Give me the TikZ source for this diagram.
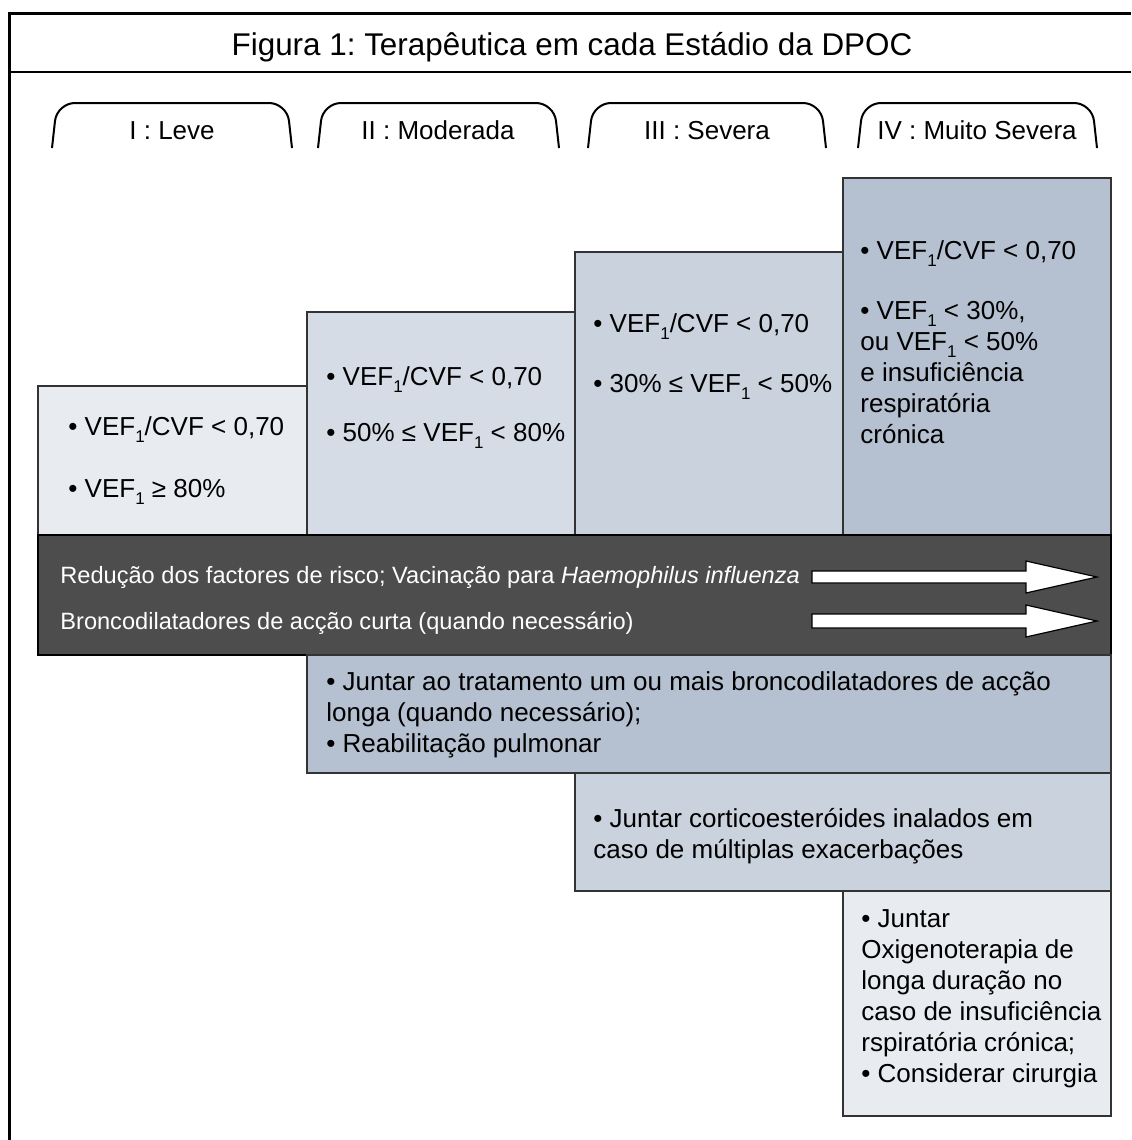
\documentclass[tikz,border=0pt]{standalone}
\usepackage{fontspec}
\setmainfont{Liberation Sans}
\frenchspacing
\definecolor{stageA}{HTML}{E8EBF0}
\definecolor{stageB}{HTML}{D6DCE5}
\definecolor{stageC}{HTML}{CAD2DD}
\definecolor{stageD}{HTML}{B5C1D0}
\definecolor{bandgray}{HTML}{4D4D4D}
\newcommand{\vef}{VEF\raisebox{-0.55ex}{\fontsize{8.5}{9}\selectfont 1}}
\newcommand{\rows}[1]{\begin{tabular}[t]{@{}l@{}}#1\end{tabular}}
\newcommand{\boxfont}{\fontsize{13}{15.5}\selectfont}
\newcommand{\bandfont}{\fontsize{11.8}{14}\selectfont}
\newcommand{\titlefont}{\fontsize{15.7}{18}\selectfont}

\begin{document}
\begin{tikzpicture}[x=0.5pt,y=-0.5pt]
	\tikzset{
		tab/.style={line width=1pt, rounded corners=9pt},
		stagebox/.style={draw=black!80, line width=0.75pt},
		txt/.style={anchor=base west, inner sep=0pt, font=\boxfont},
		bandtxt/.style={anchor=base west, inner sep=0pt, font=\bandfont, text=white},
		blockarrow/.style={fill=white, draw=black, line width=0.6pt}
	}
	\useasboundingbox (0,0) rectangle (1131,1140);
	%%%%% FRAME %%%%%
	
	\draw[line width=1.5pt] (9,1140) -- (9,13) -- (1131,13);
	\draw[line width=1pt] (9,72) -- (1131,72);
	\node[anchor=base, inner sep=0pt, font=\titlefont] (title) at (572,55) {Figura 1: Terapêutica em cada Estádio da DPOC};
	
	%%%%% TABS %%%%%
	
	\draw[tab] (52,148) -- (57,103) -- (287,103) -- (292,148);
	\draw[tab] (318,148) -- (323,103) -- (554,103) -- (559,148);
	\draw[tab] (588,148) -- (593,103) -- (821,103) -- (826,148);
	\draw[tab] (858,148) -- (863,103) -- (1092,103) -- (1097,148);
	
	\node[anchor=base, inner sep=0pt, font=\boxfont] (tabI) at (172,139) {I : Leve};
	\node[anchor=base, inner sep=0pt, font=\boxfont] (tabII) at (438,139) {II : Moderada};
	\node[anchor=base, inner sep=0pt, font=\boxfont] (tabIII) at (707,139) {III : Severa};
	\node[anchor=base, inner sep=0pt, font=\boxfont] (tabIV) at (977,139) {IV : Muito Severa};
	
	%%%%% STAGES %%%%%
	
	\draw[stagebox, fill=stageA] (38,386) rectangle (307,535);
	\draw[stagebox, fill=stageB] (307,312) rectangle (575,535);
	\draw[stagebox, fill=stageC] (575,252) rectangle (843,535);
	\draw[stagebox, fill=stageD] (843,178) rectangle (1111,535);
	
	\node[txt] (Ia) at (68,435) {• \vef/CVF < 0,70};
	\node[txt] (Ib) at (68,497) {• \vef{} ≥ 80\%};
	
	\node[txt] (IIa) at (326,385) {• \vef/CVF < 0,70};
	\node[txt] (IIb) at (326,441) {• 50\% ≤ \vef{} < 80\%};
	
	\node[txt] (IIIa) at (593,332) {• \vef/CVF < 0,70};
	\node[txt] (IIIb) at (593,392) {• 30\% ≤ \vef{} < 50\%};
	
	\node[txt] (IVa) at (860,259) {• \vef/CVF < 0,70};
	\node[txt] (IVb) at (860,319) {\rows{• \vef{} < 30\%,\\ ou \vef{} < 50\%\\ e insuficiência\\ respiratória\\ crónica}};
	
	%%%%% COMMON TREATMENT %%%%%
	
	\draw[line width=0.75pt, fill=bandgray] (38,535) rectangle (1111,655);
	\node[bandtxt] (risk) at (60,583) {Redução dos factores de risco; Vacinação para \textit{Haemophilus influenza}};
	\node[bandtxt] (short) at (60,629) {Broncodilatadores de acção curta (quando necessário)};
	
	\draw[blockarrow] (812,571) -- (1026,571) -- (1026,561) -- (1097,577) -- (1026,593) -- (1026,583) -- (812,583) -- cycle;
	\draw[blockarrow] (812,614) -- (1026,614) -- (1026,605) -- (1097,621) -- (1026,637) -- (1026,628) -- (812,628) -- cycle;
	
	%%%%% ADDED TREATMENT %%%%%
	
	\draw[stagebox, fill=stageD] (307,655) rectangle (1111,773);
	\node[txt] (longa) at (326,690) {\rows{• Juntar ao tratamento um ou mais broncodilatadores de acção\\ longa (quando necessário);\\ • Reabilitação pulmonar}};
	
	\draw[stagebox, fill=stageC] (575,773) rectangle (1111,891);
	\node[txt] (cortico) at (593,827) {\rows{• Juntar corticoesteróides inalados em\\ caso de múltiplas exacerbações}};
	
	\draw[stagebox, fill=stageA] (843,891) rectangle (1111,1116);
	\node[txt] (oxigenio) at (861,927) {\rows{• Juntar\\ Oxigenoterapia de\\ longa duração no\\ caso de insuficiência\\ rspiratória crónica;\\ • Considerar cirurgia}};
	
\end{tikzpicture}
\end{document}
